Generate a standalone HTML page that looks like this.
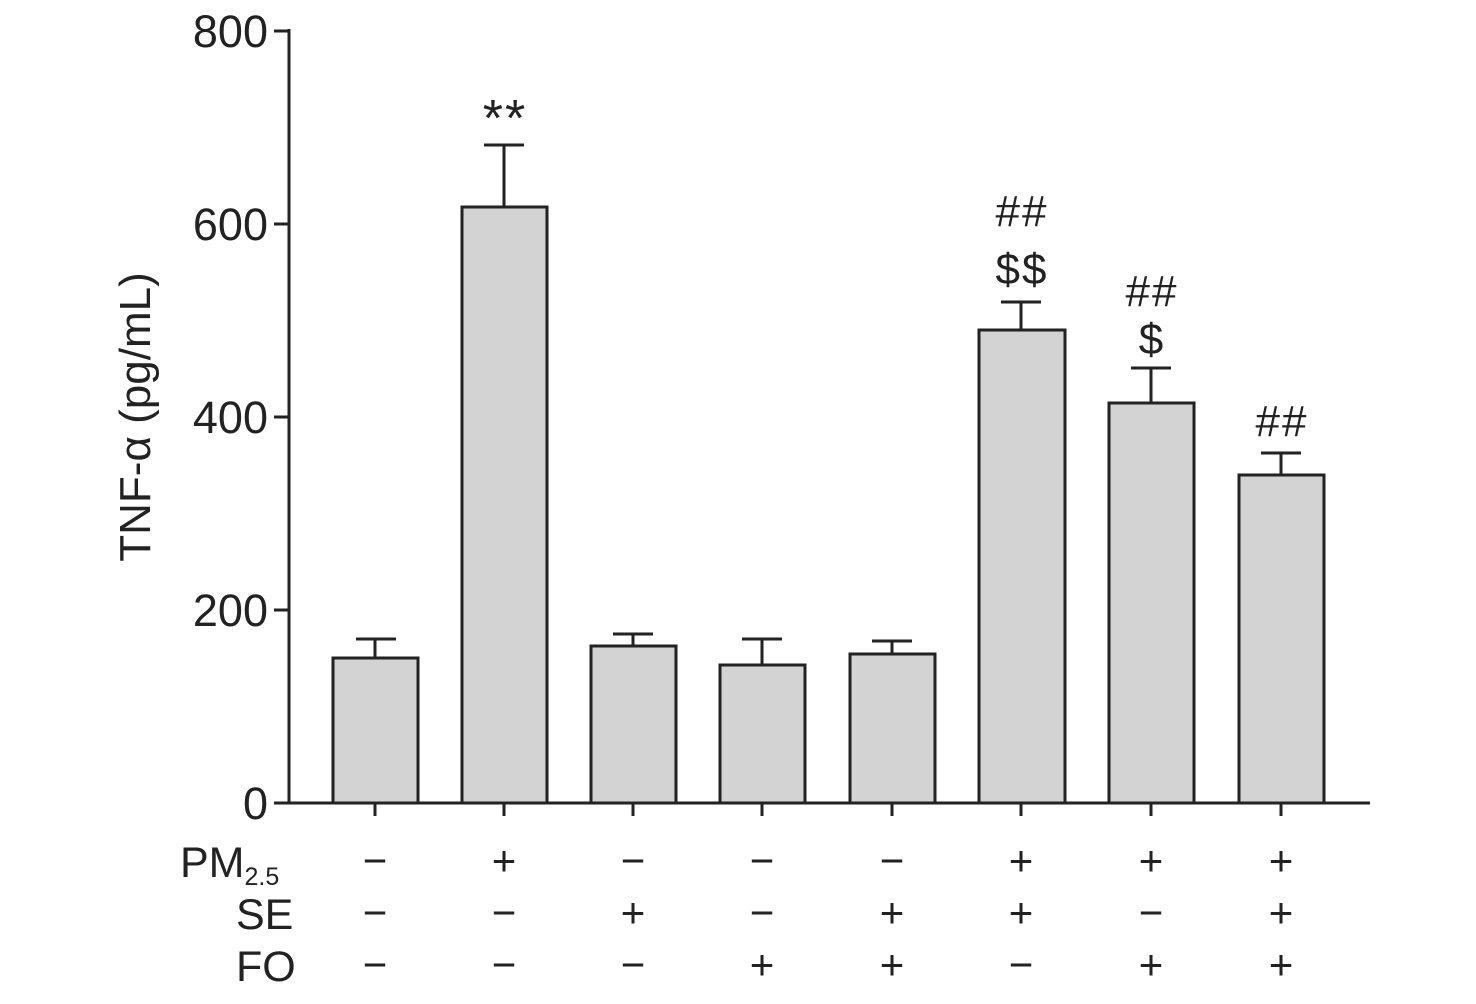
<!DOCTYPE html>
<html><head><meta charset="utf-8"><style>
body{margin:0;background:#fff}
svg text{font-family:"Liberation Sans",sans-serif;fill:#222}
</style></head><body>
<svg width="1476" height="999" viewBox="0 0 1476 999" xmlns="http://www.w3.org/2000/svg">
<g stroke="#222" stroke-width="3" fill="none">
<line x1="289" y1="29" x2="289" y2="804"/>
<line x1="288" y1="803" x2="1370" y2="803"/>
<line x1="274" y1="31" x2="289" y2="31"/>
<line x1="274" y1="224" x2="289" y2="224"/>
<line x1="274" y1="417" x2="289" y2="417"/>
<line x1="274" y1="610" x2="289" y2="610"/>
<line x1="274" y1="803" x2="289" y2="803"/>
<line x1="375" y1="803" x2="375" y2="816"/>
<line x1="504" y1="803" x2="504" y2="816"/>
<line x1="633" y1="803" x2="633" y2="816"/>
<line x1="762" y1="803" x2="762" y2="816"/>
<line x1="892" y1="803" x2="892" y2="816"/>
<line x1="1021" y1="803" x2="1021" y2="816"/>
<line x1="1151" y1="803" x2="1151" y2="816"/>
<line x1="1281" y1="803" x2="1281" y2="816"/>
<path d="M375 658V639M356 639H396"/>
<path d="M504 207V145M484 145H524"/>
<path d="M633 646V634M613 634H653"/>
<path d="M762 665V639M742 639H782"/>
<path d="M892 654V641M872 641H912"/>
<path d="M1021 330V302M1001 302H1041"/>
<path d="M1151 403V368M1131 368H1171"/>
<path d="M1281 475V453M1261 453H1301"/>
</g>
<g fill="#d3d3d3" stroke="#222" stroke-width="3">
<rect x="333" y="658" width="85" height="145"/>
<rect x="462" y="207" width="85" height="596"/>
<rect x="591" y="646" width="85" height="157"/>
<rect x="720" y="665" width="85" height="138"/>
<rect x="850" y="654" width="85" height="149"/>
<rect x="979" y="330" width="86" height="473"/>
<rect x="1109" y="403" width="85" height="400"/>
<rect x="1239" y="475" width="85" height="328"/>
</g>
<g font-size="45" text-anchor="end">
<text x="268" y="47">800</text>
<text x="268" y="240">600</text>
<text x="268" y="433">400</text>
<text x="268" y="626">200</text>
<text x="268" y="819">0</text>
</g>
<text font-size="44" text-anchor="middle" transform="translate(150,417) rotate(-90)">TNF-α (pg/mL)</text>
<g font-size="44" text-anchor="middle" letter-spacing="2">
<text x="505" y="136" font-size="52">**</text>
<text x="1022" y="226">##</text>
<text x="1022" y="284">$$</text>
<text x="1152" y="306">##</text>
<text x="1152" y="354">$</text>
<text x="1282" y="436">##</text>
</g>
<g font-size="43">
<text x="180" y="877">PM<tspan font-size="25" dy="8">2.5</tspan></text>
<text x="236" y="929">SE</text>
<text x="236" y="981">FO</text>
</g>
<g font-size="42" text-anchor="middle">
<text x="375" y="875">−</text><text x="504" y="875">+</text><text x="633" y="875">−</text><text x="762" y="875">−</text><text x="892" y="875">−</text><text x="1021" y="875">+</text><text x="1151" y="875">+</text><text x="1281" y="875">+</text>
<text x="375" y="927">−</text><text x="504" y="927">−</text><text x="633" y="927">+</text><text x="762" y="927">−</text><text x="892" y="927">+</text><text x="1021" y="927">+</text><text x="1151" y="927">−</text><text x="1281" y="927">+</text>
<text x="375" y="979">−</text><text x="504" y="979">−</text><text x="633" y="979">−</text><text x="762" y="979">+</text><text x="892" y="979">+</text><text x="1021" y="979">−</text><text x="1151" y="979">+</text><text x="1281" y="979">+</text>
</g>
</svg>
</body></html>
